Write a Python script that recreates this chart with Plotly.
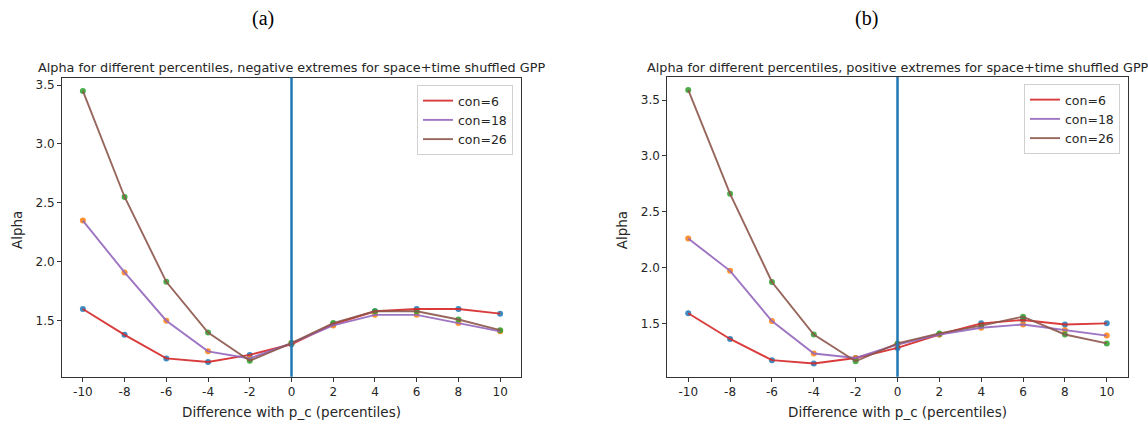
import plotly.graph_objects as go

W, H = 1148, 425

x_vals = [-10, -8, -6, -4, -2, 0, 2, 4, 6, 8, 10]
x_tick_text = ["-10", "-8", "-6", "-4", "-2", "0", "2", "4", "6", "8", "10"]
y_tick_vals = [1.5, 2.0, 2.5, 3.0, 3.5]
y_tick_text = ["1.5", "2.0", "2.5", "3.0", "3.5"]

# (a) negative extremes
neg_con6 = [1.60, 1.38, 1.18, 1.15, 1.21, 1.30, 1.47, 1.58, 1.60, 1.60, 1.56]
neg_con18 = [2.35, 1.91, 1.50, 1.24, 1.18, 1.31, 1.46, 1.55, 1.55, 1.48, 1.41]
neg_con26 = [3.45, 2.55, 1.83, 1.40, 1.16, 1.31, 1.48, 1.58, 1.58, 1.51, 1.42]

# (b) positive extremes
pos_con6 = [1.59, 1.36, 1.17, 1.14, 1.19, 1.28, 1.40, 1.50, 1.53, 1.49, 1.50]
pos_con18 = [2.26, 1.97, 1.52, 1.23, 1.19, 1.31, 1.40, 1.46, 1.49, 1.44, 1.39]
pos_con26 = [3.59, 2.66, 1.87, 1.40, 1.16, 1.32, 1.41, 1.48, 1.56, 1.40, 1.32]

series_names = ["con=6", "con=18", "con=26"]
line_colors = ["#d62728", "#9467bd", "#8c564b"]
marker_colors = ["#1f77b4", "#ff7f0e", "#2ca02c"]

titles = [
    "Alpha for different percentiles, negative extremes for space+time shuffled GPP",
    "Alpha for different percentiles, positive extremes for space+time shuffled GPP",
]
panel_labels = ["(a)", "(b)"]
x_title = "Difference with p_c (percentiles)"
y_title = "Alpha"

panels = [
    dict(data=[neg_con6, neg_con18, neg_con26], px=(62, 521), py=(77.5, 376.7),
         yrange=[1.025, 3.564], legend="legend", label_x=263),
    dict(data=[pos_con6, pos_con18, pos_con26], px=(667.3, 1127.7), py=(77, 376.7),
         yrange=[1.022, 3.706], legend="legend2", label_x=866),
]

fig = go.Figure()
TXT = "#262626"
FONT = "DejaVu Sans"

annotations = []
shapes = []
for i, p in enumerate(panels):
    xa = "x" if i == 0 else "x2"
    ya = "y" if i == 0 else "y2"
    # markers first
    for k, ser in enumerate(p["data"]):
        fig.add_trace(go.Scatter(
            x=x_vals, y=ser, mode="markers", xaxis=xa, yaxis=ya,
            marker=dict(color=marker_colors[k], size=6, opacity=0.85),
            showlegend=False, hoverinfo="skip"))
    for k, ser in enumerate(p["data"]):
        fig.add_trace(go.Scatter(
            x=x_vals, y=ser, mode="lines", xaxis=xa, yaxis=ya,
            line=dict(color=line_colors[k], width=1.9),
            opacity=0.9,
            name=series_names[k], legend=p["legend"]))

    xd = [p["px"][0] / W, p["px"][1] / W]
    yd = [1 - p["py"][1] / H, 1 - p["py"][0] / H]
    axis_common = dict(
        showline=True, mirror=True, linecolor="#333333", linewidth=1,
        ticks="outside", ticklen=4, tickcolor="#333333",
        showgrid=False, zeroline=False,
        tickfont=dict(family=FONT, size=12, color=TXT),
    )
    xkey = "xaxis" if i == 0 else "xaxis2"
    ykey = "yaxis" if i == 0 else "yaxis2"
    fig.update_layout(**{
        xkey: dict(domain=xd, range=[-11, 11], tickvals=x_vals, ticktext=x_tick_text,
                   anchor=ya, **axis_common),
        ykey: dict(domain=yd, range=p["yrange"], tickvals=y_tick_vals, ticktext=y_tick_text,
                   anchor=xa, **axis_common),
    })
    shapes.append(dict(type="line", xref=xa, yref=f"{ya} domain", x0=0, x1=0, y0=0, y1=1,
                       line=dict(color="#1f77b4", width=2.5)))
    cx = (p["px"][0] + p["px"][1]) / 2
    annotations.append(dict(text=titles[i], x=cx / W, y=1 - 67 / H, xref="paper", yref="paper",
                            showarrow=False, xanchor="center", yanchor="middle",
                            font=dict(family=FONT, size=12.8, color=TXT)))
    annotations.append(dict(text=x_title, x=cx / W, y=1 - 412 / H, xref="paper", yref="paper",
                            showarrow=False, xanchor="center", yanchor="middle",
                            font=dict(family=FONT, size=13.5, color=TXT)))
    annotations.append(dict(text=y_title, x=(p["px"][0] - 45) / W, y=1 - 230 / H,
                            xref="paper", yref="paper", textangle=-90,
                            showarrow=False, xanchor="center", yanchor="middle",
                            font=dict(family=FONT, size=13.5, color=TXT)))
    annotations.append(dict(text=panel_labels[i], x=p["label_x"] / W, y=1 - 18 / H,
                            xref="paper", yref="paper", showarrow=False,
                            xanchor="center", yanchor="middle",
                            font=dict(family="Liberation Serif", size=20, color="#000000")))

legend_common = dict(
    bgcolor="rgba(255,255,255,0.9)", bordercolor="#d0d0d0", borderwidth=1,
    font=dict(family=FONT, size=12.5, color=TXT), xanchor="right", yanchor="top",
    tracegroupgap=0,
)
fig.update_layout(
    width=W, height=H, margin=dict(l=0, r=0, t=0, b=0),
    paper_bgcolor="white", plot_bgcolor="white",
    shapes=shapes, annotations=annotations,
    legend=dict(x=513 / W, y=1 - 85 / H, **legend_common),
    legend2=dict(x=1120 / W, y=1 - 84 / H, **legend_common),
)

fig.write_html("out.html")
